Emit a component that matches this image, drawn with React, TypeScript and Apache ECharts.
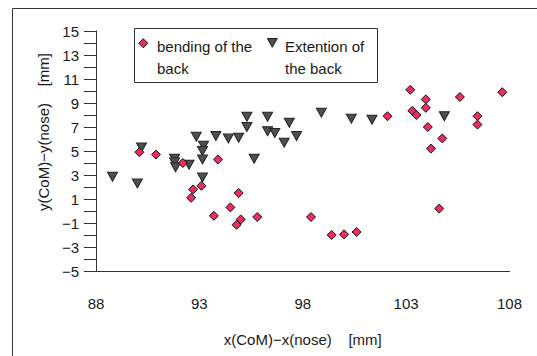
import React, { useEffect, useRef } from "react";
import * as echarts from "echarts";

const bendingX = [90.1, 90.9, 92.2, 93.1, 92.7, 92.6, 93.9, 94.9, 94.5, 93.7, 95.0, 94.8, 95.8, 98.4, 99.4, 100.0, 100.6, 102.1, 103.2, 103.95, 103.95, 103.3, 103.5, 105.6, 107.65, 106.45, 106.45, 104.05, 104.75, 104.2, 104.6];
const bendingY = [4.9, 4.7, 4.0, 2.1, 1.8, 1.1, 4.3, 1.5, 0.3, -0.4, -0.7, -1.15, -0.5, -0.5, -2.0, -1.95, -1.75, 7.9, 10.1, 9.3, 8.6, 8.35, 8.0, 9.5, 9.9, 7.9, 7.2, 7.0, 6.05, 5.2, 0.2];

const extensionX = [88.8, 90.0, 90.2, 91.8, 91.8, 91.85, 92.5, 93.2, 93.15, 93.15, 93.15, 92.85, 93.8, 94.4, 94.9, 95.3, 95.3, 95.65, 96.3, 96.3, 96.65, 97.35, 97.1, 97.7, 98.9, 100.35, 101.35, 104.85];
const extensionY = [2.85, 2.3, 5.3, 4.35, 4.05, 3.65, 3.85, 5.45, 5.0, 4.3, 2.8, 6.2, 6.25, 6.05, 6.1, 7.85, 7.0, 4.35, 7.85, 6.65, 6.5, 7.35, 5.7, 6.25, 8.2, 7.7, 7.6, 7.9];

const seriesNames = ["bending of the\nback", "Extention of\nthe back"];
const xTicks = [88, 93, 98, 103, 108];
const yTicks = [-5, -3, -1, 1, 3, 5, 7, 9, 11, 13, 15];
const xTitle = "x(CoM)\u2212x(nose)    [mm]";
const yTitle = "y(CoM)\u2212y(nose)    [mm]";

const FONT = "'Liberation Sans', Arial, sans-serif";
const PINK = "#ec2d5e";
const GRAY = "#4f4f4f";

export default function App() {
  const ref = useRef<HTMLDivElement>(null);
  useEffect(() => {
    if (!ref.current) return;
    const chart = echarts.init(ref.current, null, { renderer: "svg" });
    const fmt = (v: number) => String(v).replace("-", "\u2212");
    chart.setOption({
      animation: false,
      backgroundColor: "#fff",
      textStyle: { fontFamily: FONT },
      grid: { left: 96, right: 27.5, top: 31, bottom: 85 },
      xAxis: {
        type: "value",
        min: xTicks[0],
        max: xTicks[xTicks.length - 1],
        interval: 5,
        name: xTitle,
        nameLocation: "middle",
        nameGap: 61,
        nameTextStyle: { fontSize: 15, color: "#1a1a1a", fontFamily: FONT },
        axisLine: { show: true, onZero: false, lineStyle: { color: "#333", width: 1 } },
        axisTick: { show: false },
        axisLabel: { fontSize: 15, color: "#1a1a1a", margin: 25, formatter: fmt, fontFamily: FONT },
        splitLine: { show: false },
      },
      yAxis: {
        type: "value",
        min: yTicks[0],
        max: yTicks[yTicks.length - 1],
        interval: 2,
        axisLine: { show: true, onZero: false, lineStyle: { color: "#333", width: 1 } },
        axisTick: { show: true, length: 12, lineStyle: { color: "#333" } },
        minorTick: { show: true, splitNumber: 2, length: 12, lineStyle: { color: "#333" } },
        axisLabel: { fontSize: 15, color: "#1a1a1a", margin: 17, formatter: fmt, fontFamily: FONT },
        splitLine: { show: false },
      },
      series: [
        {
          name: seriesNames[1],
          type: "scatter",
          symbol: "triangle",
          symbolRotate: 180,
          symbolSize: [10, 9],
          itemStyle: { color: GRAY, borderColor: "#222", borderWidth: 1, opacity: 1 },
          data: extensionX.map((x, i) => [x, extensionY[i]]),
        },
        {
          name: seriesNames[0],
          type: "scatter",
          symbol: "diamond",
          symbolSize: 9,
          itemStyle: { color: PINK, borderColor: "#111", borderWidth: 1, opacity: 1 },
          data: bendingX.map((x, i) => [x, bendingY[i]]),
        },
      ],
      graphic: [
        {
          type: "rect",
          silent: true,
          shape: { x: 12.5, y: 8.5, width: 700, height: 500 },
          style: { fill: "none", stroke: "#333", lineWidth: 1 },
          z: 0,
        },
        {
          type: "text",
          x: 43,
          y: 132,
          rotation: Math.PI / 2,
          style: { text: yTitle, font: `15px ${FONT}`, fill: "#1a1a1a", align: "center", verticalAlign: "middle" },
          z: 5,
        },
        {
          type: "rect",
          shape: { x: 134.5, y: 28.5, width: 243, height: 54 },
          style: { fill: "#fff", stroke: "#333", lineWidth: 1 },
          z: 10,
        },
        {
          type: "polygon",
          shape: { points: [[143.3, 38.8], [147.8, 43.3], [143.3, 47.8], [138.8, 43.3]] },
          style: { fill: PINK, stroke: "#111", lineWidth: 1 },
          z: 11,
        },
        {
          type: "text",
          x: 157,
          y: 35.5,
          style: { text: seriesNames[0], font: `15px ${FONT}`, lineHeight: 22, fill: "#1a1a1a", verticalAlign: "top", align: "left" },
          z: 11,
        },
        {
          type: "polygon",
          shape: { points: [[267.3, 38.5], [277.3, 38.5], [272.3, 47.3]] },
          style: { fill: GRAY, stroke: "#222", lineWidth: 1 },
          z: 11,
        },
        {
          type: "text",
          x: 285,
          y: 35.5,
          style: { text: seriesNames[1], font: `15px ${FONT}`, lineHeight: 22, fill: "#1a1a1a", verticalAlign: "top", align: "left" },
          z: 11,
        },
      ],
    });
    return () => chart.dispose();
  }, []);
  return (
    <div
      ref={ref}
      style={{ position: "fixed", left: 0, top: 0, width: 537, height: 356, overflow: "hidden", background: "#fff" }}
    />
  );
}
